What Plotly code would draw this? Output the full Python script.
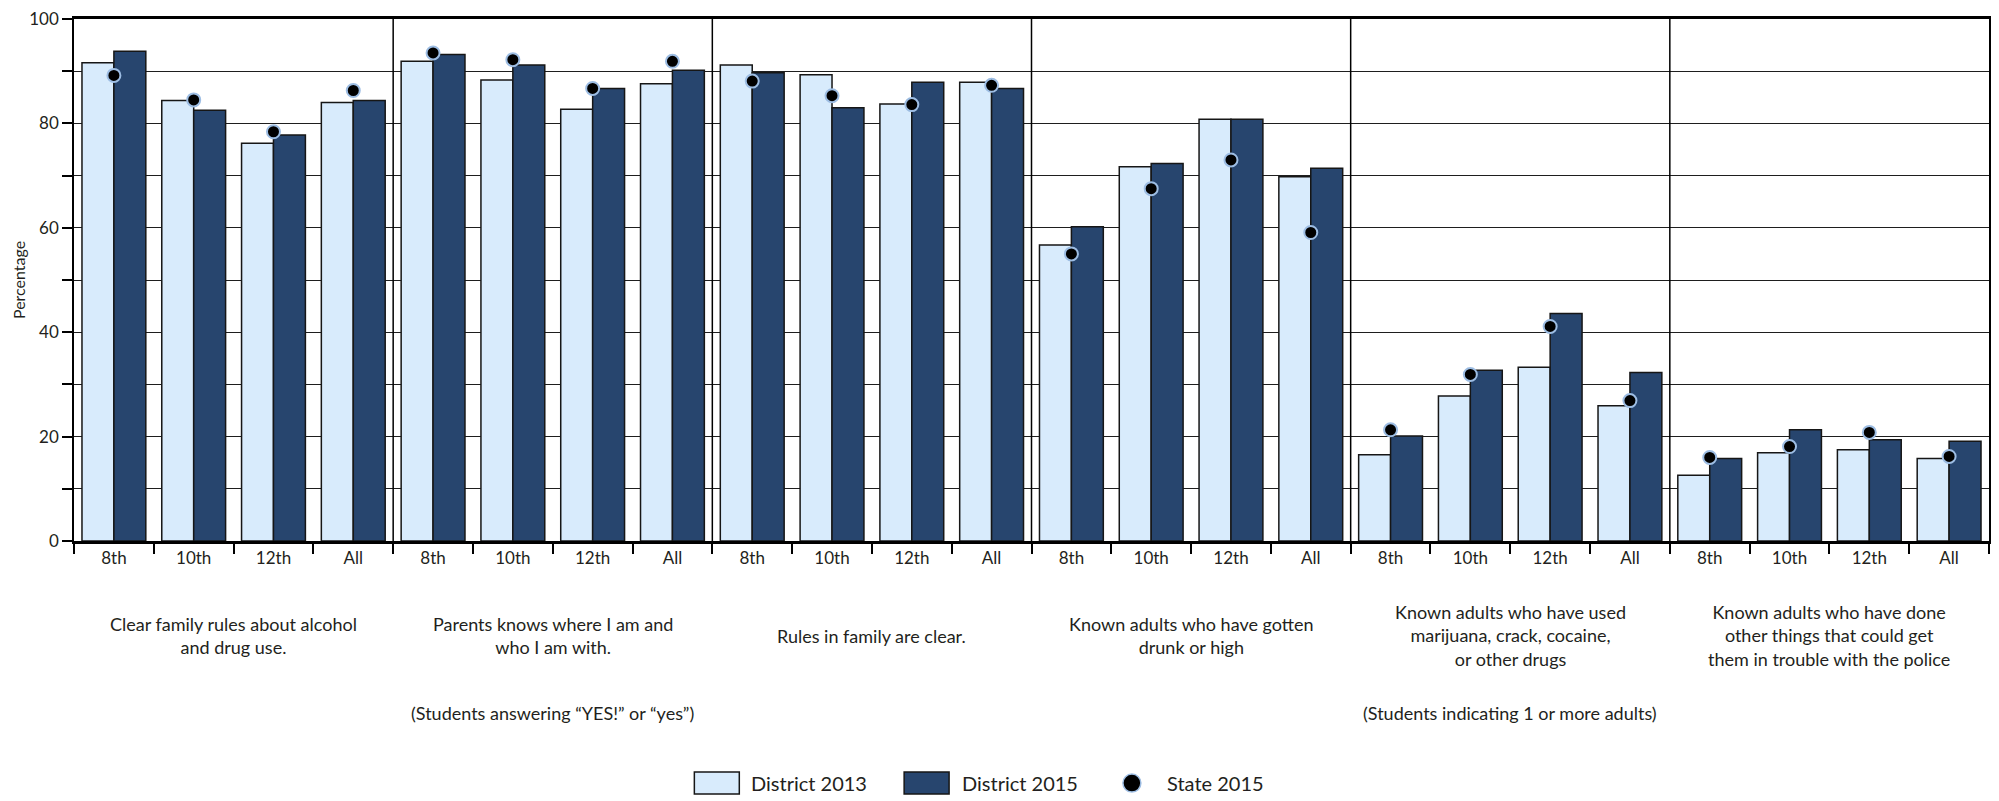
import plotly.graph_objects as go

# ---------------- data ----------------
groups = [
    "Clear family rules about alcohol<br>and drug use.",
    "Parents knows where I am and<br>who I am with.",
    "Rules in family are clear.",
    "Known adults who have gotten<br>drunk or high",
    "Known adults who have used<br>marijuana, crack, cocaine,<br>or other drugs",
    "Known adults who have done<br>other things that could get<br>them in trouble with the police",
]
grades = ["8th", "10th", "12th", "All"]

district_2013 = [91.6, 84.4, 76.2, 84.0,
                 91.9, 88.3, 82.7, 87.6,
                 91.2, 89.3, 83.7, 87.9,
                 56.7, 71.7, 80.8, 69.8,
                 16.5, 27.8, 33.3, 25.9,
                 12.6, 16.9, 17.5, 15.8]
district_2015 = [93.8, 82.5, 77.8, 84.4,
                 93.2, 91.2, 86.7, 90.2,
                 89.7, 83.0, 87.9, 86.7,
                 60.2, 72.3, 80.8, 71.4,
                 20.1, 32.7, 43.6, 32.3,
                 15.8, 21.3, 19.4, 19.1]
state_2015 = [89.2, 84.5, 78.4, 86.3,
              93.5, 92.2, 86.7, 91.9,
              88.1, 85.3, 83.6, 87.3,
              55.0, 67.5, 73.0, 59.1,
              21.3, 31.9, 41.1, 26.9,
              16.0, 18.1, 20.8, 16.2]

notes = ["(Students answering \u201cYES!\u201d or \u201cyes\u201d)",
         "(Students indicating 1 or more adults)"]
series_names = ["District 2013", "District 2015", "State 2015"]
y_ticks = [0, 20, 40, 60, 80, 100]
y_minor = [10, 30, 50, 70, 90]

# ---------------- styling ----------------
LIGHT = "#d8ebfc"
DARK = "#27456e"
EDGE = "#161616"
DOT_EDGE = "#9dbde3"
TXT = "#231f20"
FONT = "Lato"

cat_ids = [f"g{g}-{gr}" for g in range(len(groups)) for gr in grades]
tick_text = [gr for _ in groups for gr in grades]

fig = go.Figure()
fig.add_trace(go.Bar(x=cat_ids, y=district_2013, name=series_names[0],
                     marker=dict(color=LIGHT, line=dict(color=EDGE, width=1.5)),
                     showlegend=False))
fig.add_trace(go.Bar(x=cat_ids, y=district_2015, name=series_names[1],
                     marker=dict(color=DARK, line=dict(color=EDGE, width=1.5)),
                     showlegend=False))
fig.add_trace(go.Scatter(x=cat_ids, y=state_2015, name=series_names[2], mode="markers",
                         marker=dict(color="black", size=13,
                                     line=dict(color=DOT_EDGE, width=2)),
                         showlegend=False))

L, R, T, B = 74, 8, 17, 260
W, H = 1999, 801
pw, ph = W - L - R, H - T - B


def px_x(p):
    return (p - L) / pw


def px_y(p):
    return (H - B - p) / ph


shapes = []
n = len(grades)
for g in range(1, len(groups)):
    xb = g * n - 0.5
    shapes.append(dict(type="line", xref="x", yref="paper", x0=xb, x1=xb, y0=0, y1=1,
                       line=dict(color="black", width=1.5), layer="above"))

annotations = []
for g, lab in enumerate(groups):
    annotations.append(dict(xref="x", yref="paper", x=g * n + (n - 1) / 2, y=px_y(636),
                            text=lab, showarrow=False, xanchor="center", yanchor="middle",
                            align="center", font=dict(family=FONT, size=18, color=TXT)))
half = len(groups) // 2
for i, note in enumerate(notes):
    annotations.append(dict(xref="x", yref="paper", x=i * half * n + (half * n - 1) / 2,
                            y=px_y(714), text=note, showarrow=False, xanchor="center",
                            yanchor="middle", font=dict(family=FONT, size=18, color=TXT)))
annotations.append(dict(xref="paper", yref="paper", x=px_x(18), y=0.5, text="Percentage",
                        textangle=-90, showarrow=False, xanchor="center", yanchor="middle",
                        font=dict(family=FONT, size=16, color=TXT)))

# custom legend
ly0, ly1 = px_y(773), px_y(795)
shapes.append(dict(type="rect", xref="paper", yref="paper", x0=px_x(695), x1=px_x(740),
                   y0=ly0, y1=ly1, fillcolor=LIGHT, line=dict(color=EDGE, width=1.5)))
shapes.append(dict(type="rect", xref="paper", yref="paper", x0=px_x(905), x1=px_x(950),
                   y0=ly0, y1=ly1, fillcolor=DARK, line=dict(color=EDGE, width=1.5)))
shapes.append(dict(type="circle", xref="paper", yref="paper", x0=px_x(1124), x1=px_x(1142),
                   y0=px_y(775), y1=px_y(793), fillcolor="black",
                   line=dict(color=DOT_EDGE, width=1.5)))
for xt, name in zip([750, 961, 1166], series_names):
    annotations.append(dict(xref="paper", yref="paper", x=px_x(xt), y=px_y(784), text=name,
                            showarrow=False, xanchor="left", yanchor="middle",
                            font=dict(family=FONT, size=20, color=TXT)))

fig.update_layout(
    width=W, height=H,
    margin=dict(l=L, r=R, t=T, b=B, pad=0),
    paper_bgcolor="white", plot_bgcolor="white",
    barmode="group", bargap=0.2, bargroupgap=0,
    font=dict(family=FONT, color=TXT),
    shapes=shapes, annotations=annotations,
    xaxis=dict(type="category", categoryorder="array", categoryarray=cat_ids,
               tickmode="array", tickvals=cat_ids, ticktext=tick_text,
               tickson="boundaries", ticks="outside", ticklen=10, tickwidth=1.5,
               tickcolor="black", showline=True, linecolor="black", linewidth=2.5,
               mirror=True, showgrid=False, range=[-0.5, len(cat_ids) - 0.5],
               tickfont=dict(family=FONT, size=17, color=TXT), fixedrange=True),
    yaxis=dict(range=[0, 100], tickmode="array", tickvals=y_ticks, ticks="outside",
               ticklen=10, tickwidth=1.5, tickcolor="black",
               showgrid=True, gridcolor="#1e1e1e", gridwidth=1.4,
               minor=dict(tickmode="array", tickvals=y_minor, ticks="outside", ticklen=10,
                          tickwidth=1.5, tickcolor="black", showgrid=True,
                          gridcolor="#1e1e1e", gridwidth=1.4),
               showline=True, linecolor="black", linewidth=1.5, mirror=True,
               zeroline=False, tickfont=dict(family=FONT, size=17, color=TXT),
               fixedrange=True),
)

fig.write_html("out.html", config={"displayModeBar": False},
               post_script="document.body.style.margin='0';document.body.style.overflow='hidden';")
